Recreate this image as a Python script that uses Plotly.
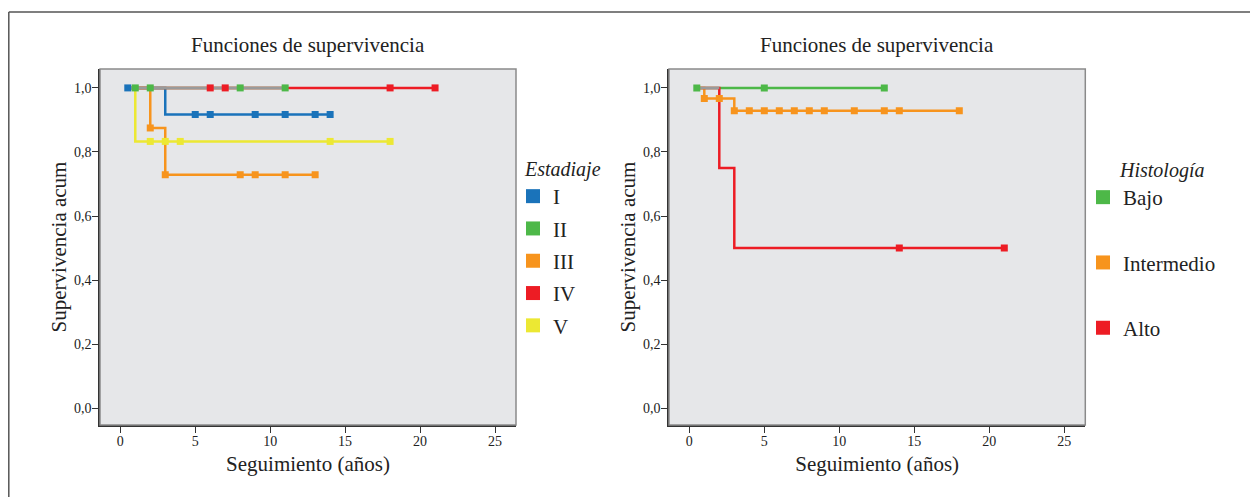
import plotly.graph_objects as go

# The page body has an 8px margin: the figure is drawn at (8, 8) in the window.
OFF = 8
W, H = 1258 - OFF, 497 - OFF


def px(x):
    return (x - OFF) / W


def py(y):
    return 1 - (y - OFF) / H


# ---------------- DATA ----------------
# Left panel: Estadiaje (Kaplan-Meier step curves + censor marks)
stage_names = ["I", "II", "III", "IV", "V"]
stage_colors = ["#1a73ba", "#4db848", "#f7941d", "#ed1c24", "#ece833"]
stage_step_t = [[0.5, 3, 14], [0.5, 11], [0.5, 2, 3, 13], [0.5, 21], [0.5, 1, 18]]
stage_step_s = [[1.0, 0.917, 0.917], [1.0, 1.0], [1.0, 0.875, 0.729, 0.729], [1.0, 1.0], [1.0, 0.833, 0.833]]
stage_cens_t = [[0.5, 5, 6, 9, 11, 13, 14], [1, 2, 8, 11], [2, 3, 8, 9, 11, 13], [6, 7, 18, 21], [2, 3, 4, 14, 18]]
stage_cens_s = [[1.0, 0.917, 0.917, 0.917, 0.917, 0.917, 0.917], [1.0, 1.0, 1.0, 1.0],
                [0.875, 0.729, 0.729, 0.729, 0.729, 0.729], [1.0, 1.0, 1.0, 1.0],
                [0.833, 0.833, 0.833, 0.833, 0.833]]
stage_overlap_t = [0.5, 11]
stage_overlap_s = [1.0, 1.0]

# Right panel: Histología
hist_names = ["Bajo", "Intermedio", "Alto"]
hist_colors = ["#4db848", "#f7941d", "#ed1c24"]
hist_step_t = [[0.5, 13], [0.5, 1, 3, 18], [0.5, 2, 3, 21]]
hist_step_s = [[1.0, 1.0], [1.0, 0.967, 0.929, 0.929], [1.0, 0.75, 0.5, 0.5]]
hist_cens_t = [[0.5, 5, 13], [1, 2, 3, 4, 5, 6, 7, 8, 9, 11, 13, 14, 18], [14, 21]]
hist_cens_s = [[1.0, 1.0, 1.0], [0.967, 0.967] + [0.929] * 11, [0.5, 0.5]]
hist_overlap_t = [0.5, 2]
hist_overlap_s = [1.0, 1.0]

x_ticks = [0, 5, 10, 15, 20, 25]
y_ticks = [0.0, 0.2, 0.4, 0.6, 0.8, 1.0]
y_ticklabels = ["0,0", "0,2", "0,4", "0,6", "0,8", "1,0"]
title_text = "Funciones de supervivencia"
x_title = "Seguimiento (años)"
y_title = "Supervivencia acum"
overlap_color = "#9a9a9a"

FONT = "Liberation Serif"
TXT = "#222222"

fig = go.Figure()


def add_panel(xa, ya, names, colors, st, ss, ct, cs, ot, os_, legend):
    for n, c, t, s in zip(names, colors, st, ss):
        fig.add_trace(go.Scatter(x=t, y=s, mode="lines", line=dict(color=c, width=2.5, shape="hv"),
                                 xaxis=xa, yaxis=ya, showlegend=False, hoverinfo="skip"))
    fig.add_trace(go.Scatter(x=ot, y=os_, mode="lines", line=dict(color=overlap_color, width=2.5),
                             xaxis=xa, yaxis=ya, showlegend=False, hoverinfo="skip"))
    for n, c, t, s in zip(names, colors, ct, cs):
        fig.add_trace(go.Scatter(x=t, y=s, mode="markers", marker=dict(color=c, size=7, symbol="square"),
                                 xaxis=xa, yaxis=ya, showlegend=False, name=n))
    for i, (n, c) in enumerate(zip(names, colors)):
        fig.add_trace(go.Scatter(x=[None], y=[None], mode="markers", name=n,
                                 marker=dict(color=c, size=14, symbol="square"),
                                 xaxis=xa, yaxis=ya, legend=legend, legendgroup=legend + str(i)))


add_panel("x", "y", stage_names, stage_colors, stage_step_t, stage_step_s,
          stage_cens_t, stage_cens_s, stage_overlap_t, stage_overlap_s, "legend")
add_panel("x2", "y2", hist_names, hist_colors, hist_step_t, hist_step_s,
          hist_cens_t, hist_cens_s, hist_overlap_t, hist_overlap_s, "legend2")

xdom1 = [px(100), px(516)]
xdom2 = [px(669), px(1085.3)]
ydom = [py(425), py(69)]
xr = [-1.353, 26.4]
yr = [-0.052, 1.059]

axis_common = dict(showgrid=False, zeroline=False, showline=True, linecolor="#333333", linewidth=1.5,
                   ticks="outside", ticklen=6, tickcolor="#333333", tickwidth=1,
                   tickfont=dict(family=FONT, size=14, color=TXT))

x_axis = dict(axis_common, range=xr, tickvals=x_ticks, ticklabelstandoff=-4,
              title=dict(text=x_title, font=dict(family=FONT, size=21, color=TXT), standoff=9))
y_axis = dict(axis_common, range=yr, tickvals=y_ticks, ticktext=y_ticklabels, ticklabelstandoff=-2,
              title=dict(text=y_title, font=dict(family=FONT, size=21, color=TXT), standoff=2))

fig.update_layout(
    width=W, height=H, margin=dict(l=0, r=0, t=0, b=0),
    paper_bgcolor="white", plot_bgcolor="#e6e7e9",
    font=dict(family=FONT, color=TXT),
    xaxis=dict(x_axis, domain=xdom1, anchor="y"),
    yaxis=dict(y_axis, domain=ydom, anchor="x"),
    xaxis2=dict(x_axis, domain=xdom2, anchor="y2"),
    yaxis2=dict(y_axis, domain=ydom, anchor="x2"),
    legend=dict(x=px(513), y=py(150), xanchor="left", yanchor="top", bgcolor="rgba(0,0,0,0)",
                title=dict(text="&nbsp;&nbsp;<i>Estadiaje</i>", side="top",
                           font=dict(family=FONT, size=20, color=TXT)),
                font=dict(family=FONT, size=21, color=TXT), tracegroupgap=2, itemwidth=30),
    legend2=dict(x=px(1083), y=py(151), xanchor="left", yanchor="top", bgcolor="rgba(0,0,0,0)",
                 title=dict(text="&nbsp;&nbsp;&nbsp;&nbsp;&nbsp;&nbsp;&nbsp;<i>Histología</i>", side="top",
                            font=dict(family=FONT, size=20, color=TXT)),
                 font=dict(family=FONT, size=21, color=TXT), tracegroupgap=35, itemwidth=30),
    showlegend=True,
)

# plot-area frames (top/right edges in gray)
for xa in ["x", "x2"]:
    fig.add_shape(type="rect", xref=xa + " domain", yref="y domain", x0=0, x1=1, y0=0, y1=1,
                  line=dict(color="#8a8a8a", width=1.5), layer="above")

# titles
for dom in [xdom1, xdom2]:
    fig.add_annotation(x=(dom[0] + dom[1]) / 2, y=py(45), xref="paper", yref="paper",
                       text=title_text, showarrow=False, xanchor="center", yanchor="middle",
                       font=dict(family=FONT, size=21, color=TXT))

# outer figure frame (left and top edges)
fig.add_shape(type="line", xref="paper", yref="paper", x0=px(8.8), x1=1, y0=py(12), y1=py(12),
              line=dict(color="#555555", width=1.5))
fig.add_shape(type="line", xref="paper", yref="paper", x0=px(8.8), x1=px(8.8), y0=0, y1=py(12),
              line=dict(color="#555555", width=1.5))

fig.write_html("out.html")
